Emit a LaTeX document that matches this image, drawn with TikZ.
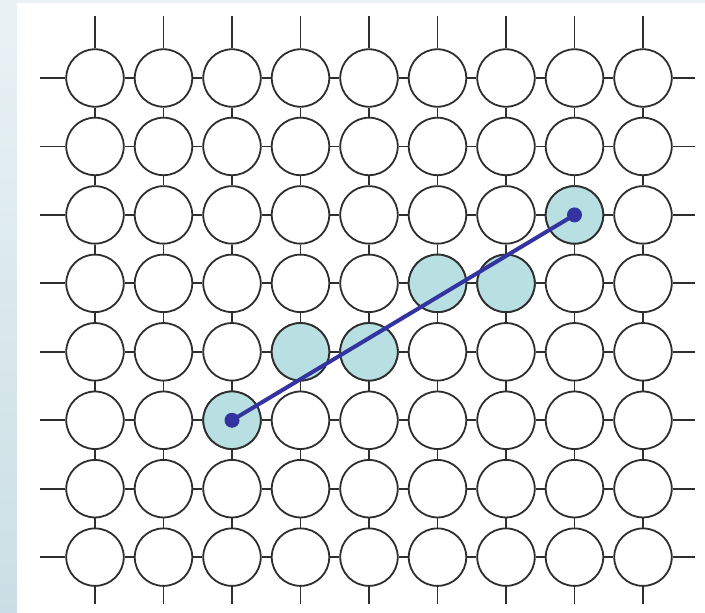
\documentclass[tikz,border=0pt]{standalone}
\usetikzlibrary{calc}
\definecolor{bgtop}{HTML}{EAF2F5}
\definecolor{bgbot}{HTML}{CADFE5}
\definecolor{ringc}{HTML}{2E2E2E}
\definecolor{hilite}{HTML}{B8DFE2}
\definecolor{pathc}{HTML}{3434A0}
\tikzset{
  cell/.style={circle, draw=ringc, line width=1.8pt, fill=white, minimum size=57.5pt, inner sep=0pt},
  hot/.style={cell, fill=hilite},
  wire/.style={draw=ringc, line width=1.8pt},
  route/.style={draw=pathc, line width=4pt, line cap=round},
  enddot/.style={fill=pathc}
}
\begin{document}
\begin{tikzpicture}[x=1pt,y=-1pt]
\useasboundingbox (0,0) rectangle (705,613);
\shade[top color=bgtop, bottom color=bgbot] (0,0) rectangle (705,613);
\fill[white] (17,3) rectangle (705,613);
% cells
\foreach \i in {0,...,8}{
  \foreach \j in {0,...,7}{
    \node[cell] (c-\i-\j) at ({95+68.5*\i},{78+68.45*\j}) {};
  }
}
% highlighted cells
\foreach \i/\j in {2/5,3/4,4/4,5/3,6/3,7/2}{
  \node[hot] at (c-\i-\j) {};
}
% horizontal wires
\foreach \i [evaluate=\i as \k using int(\i+1)] in {0,...,7}{
  \foreach \j in {0,...,7}{
    \draw[wire] (c-\i-\j.east) -- (c-\k-\j.west);
  }
}
% vertical wires
\foreach \i in {0,...,8}{
  \foreach \j [evaluate=\j as \k using int(\j+1)] in {0,...,6}{
    \draw[wire] (c-\i-\j.south) -- (c-\i-\k.north);
  }
}
% top and bottom stubs
\foreach \i in {0,...,8}{
  \coordinate (t-\i) at ($(c-\i-0.north)+(0,-32)$);
  \coordinate (b-\i) at ($(c-\i-7.south)+(0,17)$);
  \draw[wire] (c-\i-0.north) -- (t-\i);
  \draw[wire] (c-\i-7.south) -- (b-\i);
}
% left and right stubs
\foreach \j in {0,...,7}{
  \coordinate (l-\j) at ($(c-0-\j.west)+(-25,0)$);
  \coordinate (r-\j) at ($(c-8-\j.east)+(22,0)$);
  \draw[wire] (c-0-\j.west) -- (l-\j);
  \draw[wire] (c-8-\j.east) -- (r-\j);
}
% route
\draw[route] (c-2-5.center) -- (c-7-2.center);
\fill[enddot] (c-2-5.center) circle (7.5);
\fill[enddot] (c-7-2.center) circle (7.5);
\end{tikzpicture}
\end{document}
